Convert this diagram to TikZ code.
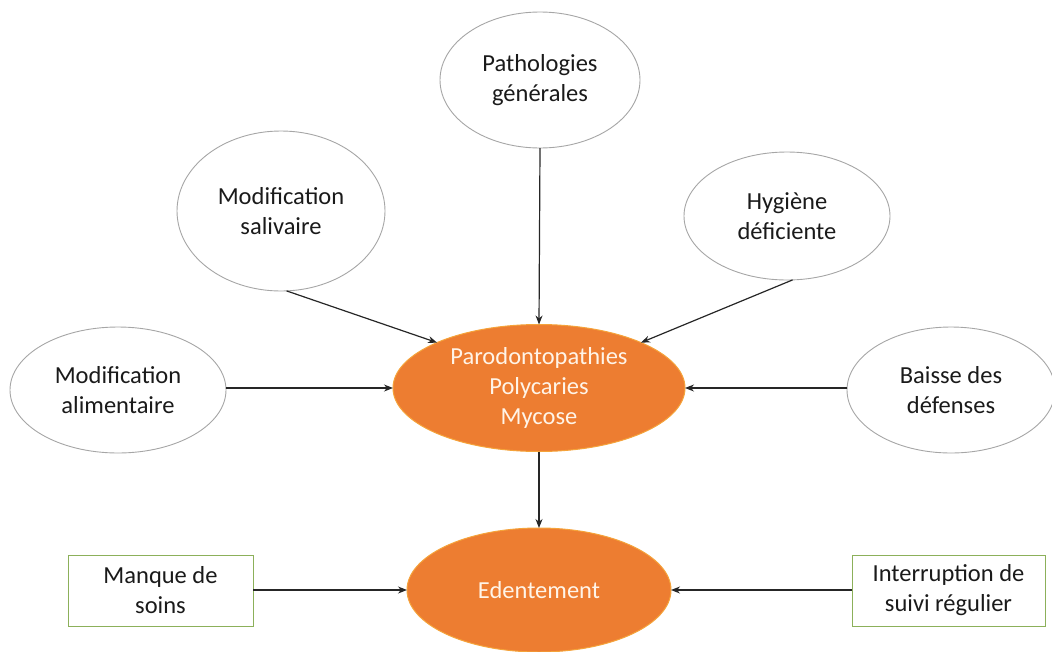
\documentclass[tikz,border=0pt]{standalone}
\usepackage{fontspec}
\setmainfont{Carlito}
\usetikzlibrary{shapes.geometric,arrows.meta}
\definecolor{orangefill}{HTML}{ED7D31}
\definecolor{orangeedge}{HTML}{F5A33A}
\definecolor{greyedge}{HTML}{A6A6A6}
\definecolor{greenedge}{HTML}{8CB05A}
\definecolor{txt}{HTML}{1A1A1A}
\definecolor{lighttxt}{HTML}{FFF4E8}
\tikzset{
  cause/.style={ellipse, draw=greyedge, line width=0.9pt, fill=white, inner sep=0pt, outer sep=0pt,
    align=center, text=txt, font=\fontsize{24.5}{30}\selectfont},
  effect/.style={ellipse, draw=orangeedge, line width=1pt, fill=orangefill, inner sep=0pt, outer sep=0pt,
    align=center, text=lighttxt, font=\fontsize{24.5}{30}\selectfont},
  factorbox/.style={rectangle, draw=greenedge, line width=0.9pt, fill=white, inner sep=0pt, outer sep=0pt,
    align=center, text=txt, font=\fontsize{24.5}{30}\selectfont},
  link/.style={-{Stealth[length=9pt,width=7pt]}, line width=1.2pt, draw=black!85}
}
\begin{document}
\begin{tikzpicture}[x=1pt,y=-1pt]
\useasboundingbox (0,0) rectangle (1052,651);
\node[cause, minimum width=200pt, minimum height=136pt] (patho) at (540,80) {Pathologies\\générales};
\node[cause, minimum width=208pt, minimum height=160pt] (saliv) at (281,211) {Modification\\salivaire};
\node[cause, minimum width=206pt, minimum height=128pt] (hyg) at (787,216) {Hygiène\\déficiente};
\node[cause, minimum width=216pt, minimum height=126pt] (alim) at (118,390) {Modification\\alimentaire};
\node[cause, minimum width=208pt, minimum height=126pt] (baisse) at (951,390) {Baisse des\\défenses};
\node[effect, minimum width=292pt, minimum height=127pt] (paro) at (539,388) {Parodontopathies\\Polycaries\\Mycose};
\node[effect, minimum width=264pt, minimum height=124pt] (eden) at (539,590) {Edentement};
\node[factorbox, minimum width=185pt, minimum height=71pt] (manque) at (160.5,590.5) {Manque de\\soins};
\node[factorbox, minimum width=193pt, minimum height=71pt] (interr) at (948.5,590.5) {Interruption de\\suivi régulier};
\draw[link] (patho.south) -- (paro.north);
\draw[link] (saliv.274) -- (paro.156);
\draw[link] (hyg.275) -- (paro.24);
\draw[link] (alim.east |- paro.west) -- (paro.west);
\draw[link] (baisse.west |- paro.east) -- (paro.east);
\draw[link] (paro.south) -- (eden.north);
\draw[link] (manque.east |- eden.west) -- (eden.west);
\draw[link] (interr.west |- eden.east) -- (eden.east);
\end{tikzpicture}
\end{document}
